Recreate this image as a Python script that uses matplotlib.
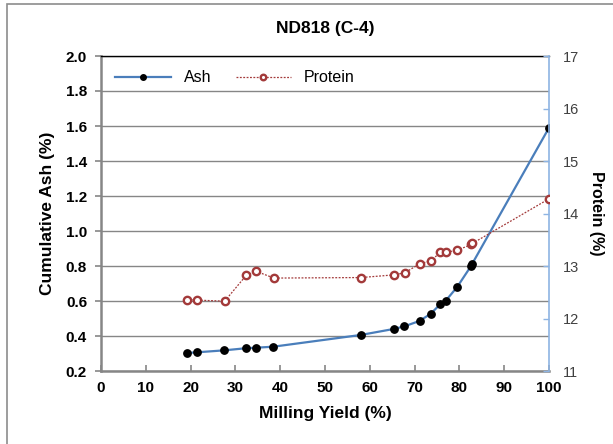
import matplotlib
matplotlib.use("Agg")
import matplotlib.pyplot as plt
from matplotlib.patches import Rectangle

plt.rcParams["font.family"] = ["Liberation Sans", "DejaVu Sans"]

# ── data ──────────────────────────────────────────────────────────────────────
ash_yield = [19.1, 21.5, 27.5, 32.3, 34.6, 38.5, 58.0, 65.3, 67.7, 71.1,
             73.6, 75.7, 76.9, 79.5, 82.6, 82.8, 100.0]
ash_pct = [0.303, 0.307, 0.318, 0.330, 0.333, 0.339, 0.406, 0.440, 0.455,
           0.486, 0.527, 0.581, 0.600, 0.680, 0.800, 0.810, 1.590]

prot_yield = [19.3, 21.5, 27.6, 32.4, 34.6, 38.6, 58.0, 65.3, 67.8, 71.1,
              73.7, 75.7, 76.9, 79.5, 82.7, 82.9, 100.0]
prot_pct = [12.36, 12.35, 12.33, 12.82, 12.90, 12.77, 12.78, 12.83, 12.87,
            13.04, 13.10, 13.26, 13.26, 13.30, 13.41, 13.43, 14.28]

x_ticks = list(range(0, 101, 10))
ash_ticks = [0.2, 0.4, 0.6, 0.8, 1.0, 1.2, 1.4, 1.6, 1.8, 2.0]
prot_ticks = [11, 12, 13, 14, 15, 16, 17]

BLUE = "#4a7ebb"
RED = "#a33a3a"
GREY = "#868686"

fig = plt.figure(figsize=(6.13, 4.44), dpi=100)
ax = fig.add_axes([101 / 613, 1 - 371 / 444, 448 / 613, 315 / 444])
ax2 = ax.twinx()

# outer chart frame (cut at right/bottom like the screenshot)
fig.patches.append(Rectangle((7 / 613, -0.1), 1.2, 1 - 4 / 444 + 0.1,
                             transform=fig.transFigure, fill=False,
                             ec="#8c8c8c", lw=1.2))

ax.plot(ash_yield, ash_pct, color=BLUE, lw=1.6, marker="o", ms=5.3,
        mfc="black", mec="black", label="Ash", zorder=3)
ax2.plot(prot_yield, prot_pct, color=RED, lw=0.9, ls=(0, (1.5, 1.2)),
         marker="o", ms=5.3, mfc="white", mec=RED, mew=1.7, label="Protein",
         zorder=3)

ax.set_xlim(0, 100)
ax.set_ylim(0.2, 2.0)
ax2.set_ylim(11, 17)
ax.set_xticks(x_ticks)
ax.set_yticks(ash_ticks)
ax.set_yticklabels([f"{v:.1f}" for v in ash_ticks])
ax2.set_yticks(prot_ticks)

ax.grid(axis="y", color=GREY, lw=1.0)
ax.set_axisbelow(True)

for s in ["left", "bottom"]:
    ax.spines[s].set_color(GREY)
    ax.spines[s].set_linewidth(1.8)
ax.spines["top"].set_color("black")
ax.spines["top"].set_linewidth(1.0)
ax.spines["right"].set_visible(False)
for s in ["left", "bottom", "top"]:
    ax2.spines[s].set_visible(False)
ax2.spines["right"].set_color("#8eb4e3")
ax2.spines["right"].set_linewidth(1.2)

ax.tick_params(axis="x", direction="in", length=4, color=GREY, width=1.2,
               labelsize=11, pad=7)
ax.tick_params(axis="y", direction="out", length=4, color=GREY, width=1.2,
               labelsize=11, pad=6)
for lbl in ax.get_xticklabels() + ax.get_yticklabels():
    lbl.set_fontweight("bold")
ax2.tick_params(axis="y", direction="in", length=4, color="#8eb4e3",
                width=1.0, labelsize=10.5, labelcolor="#404040", pad=10)

ax.set_xlabel("Milling Yield (%)", fontsize=12.5, fontweight="bold",
              labelpad=8)
ax.set_ylabel("Cumulative Ash (%)", fontsize=12.5, fontweight="bold",
              labelpad=8)
ax2.set_ylabel("Protein (%)", fontsize=11.5, fontweight="bold", rotation=270,
               labelpad=18)
fig.text(0.5 * (101 + 549) / 613, 1 - 28 / 444, "ND818 (C-4)",
         ha="center", va="center", fontsize=12.5, fontweight="bold")

h1, l1 = ax.get_legend_handles_labels()
h2, l2 = ax2.get_legend_handles_labels()
ax2.legend(h1 + h2, l1 + l2, loc="upper left", ncol=2, frameon=False,
           fontsize=11.5, handlelength=3.5, columnspacing=1.5,
           markerscale=0.75, bbox_to_anchor=(0.0, 1.0))

plt.savefig("out.png", dpi=100)
plt.close()
